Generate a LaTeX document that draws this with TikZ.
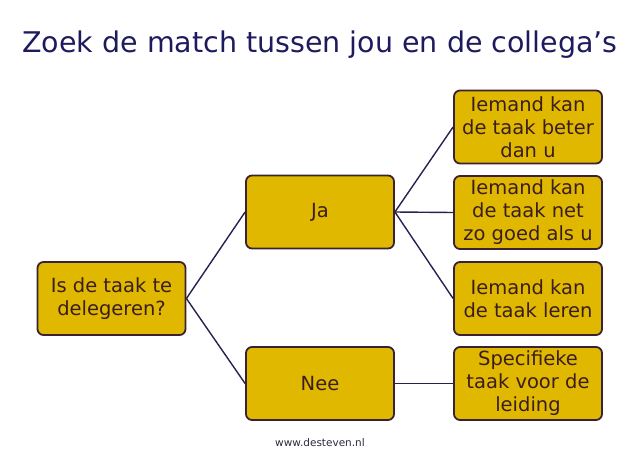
\documentclass[tikz,border=0pt]{standalone}
\usepackage{fontspec}
\setmainfont{DejaVu Sans}
\definecolor{boxfill}{HTML}{E1B800}
\definecolor{boxline}{HTML}{3B2232}
\definecolor{boxtext}{HTML}{3A1E1E}
\definecolor{titlecol}{HTML}{1E1A5E}
\definecolor{linecol}{HTML}{2A2050}
\definecolor{urlcol}{HTML}{2A2A40}
\begin{document}
\begin{tikzpicture}[x=1pt,y=-1pt,
  box/.style={draw=boxline, line width=1.8pt, fill=boxfill, rounded corners=6pt,
    minimum width=148pt, minimum height=73pt, align=center, text=boxtext,
    font=\fontsize{19.5}{23}\selectfont, inner sep=1pt},
  conn/.style={draw=linecol, line width=1.4pt}]
\useasboundingbox (0,0) rectangle (640,463);
\node[text=titlecol, font=\fontsize{28.5}{32}\selectfont] (title) at (320,45) {Zoek de match tussen jou en de collega’s};
\node[box] (q) at (111.5,298.5) {Is de taak te\\delegeren?};
\node[box] (ja) at (320,212) {Ja};
\node[box] (nee) at (320,383.5) {Nee};
\node[box] (a) at (528,127) {Iemand kan\\de taak beter\\dan u};
\node[box] (b) at (528,212.5) {Iemand kan\\de taak net\\zo goed als u};
\node[box] (c) at (528,298.5) {Iemand kan\\de taak leren};
\node[box] (d) at (528,383.5) {Specifieke\\taak voor de\\leiding};
\node[font=\fontsize{10.5}{13}\selectfont, text=urlcol] (url) at (320,443) {www.desteven.nl};
\draw[conn] (q.east) -- (ja.west);
\draw[conn] (q.east) -- (nee.west);
\draw[conn] (ja.east) -- (a.west);
\draw[conn] (ja.east) -- (b.west);
\draw[conn] (ja.east) -- (c.west);
\draw[conn] (nee.east) -- (d.west);
\end{tikzpicture}
\end{document}
